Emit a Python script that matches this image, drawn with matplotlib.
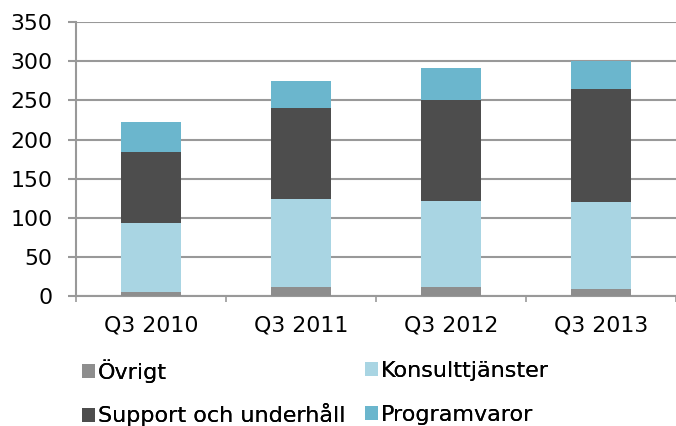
import numpy as np
import matplotlib
matplotlib.use('Agg')
import matplotlib.pyplot as plt

plt.rcParams['font.family'] = ['DejaVu Sans']

# data
kvartal = ['Q3 2010', 'Q3 2011', 'Q3 2012', 'Q3 2013']
ovrigt = [5, 11, 11, 9]
konsult = [88, 113, 111, 111]
support = [91, 116, 128, 144]
program = [38, 35, 42, 36]

c_ovr = '#8e8e8e'
c_kon = '#a9d5e3'
c_sup = '#4d4d4d'
c_pro = '#6bb6cd'
gr = '#999999'
fs = 15.8

fig = plt.figure(figsize=(6.76, 4.26), dpi=100)
ax = fig.add_axes([76/676, 0.305, 600/676, 0.643])

x = np.arange(len(kvartal))
w = 0.40
b1 = np.array(ovrigt)
b2 = b1 + np.array(konsult)
b3 = b2 + np.array(support)
h_ovr = ax.bar(x, ovrigt, w, color=c_ovr, zorder=3)
h_kon = ax.bar(x, konsult, w, bottom=b1, color=c_kon, zorder=3)
h_sup = ax.bar(x, support, w, bottom=b2, color=c_sup, zorder=3)
h_pro = ax.bar(x, program, w, bottom=b3, color=c_pro, zorder=3)

ax.set_ylim(0, 350)
ax.set_yticks(range(0, 351, 50))
ax.set_xlim(-0.5, 3.46)
ax.set_xticks(x)
ax.set_xticklabels(kvartal)
ax.set_xticks(np.arange(-0.5, 3.6, 1), minor=True)
ax.tick_params(axis='x', which='major', length=0, pad=14, labelsize=fs)
ax.tick_params(axis='x', which='minor', length=4, color=gr, width=1.2)
ax.tick_params(axis='y', length=6, color=gr, width=1.5, pad=11, labelsize=fs)
ax.grid(axis='y', color=gr, lw=1.5, zorder=0)
for s in ['top', 'right']:
    ax.spines[s].set_visible(False)
for s in ['bottom', 'left']:
    ax.spines[s].set_color(gr)
    ax.spines[s].set_linewidth(1.5)

# legend entries, two rows of two
entries = [(h_ovr, 'Övrigt', 82, 371),
           (h_kon, 'Konsulttjänster', 365, 371),
           (h_sup, 'Support och underhåll', 82, 415),
           (h_pro, 'Programvaror', 365, 415)]
for h, lab, px, py in entries:
    lg = fig.legend([h], [lab], loc='center left',
                    bbox_to_anchor=(px/676, 1 - py/426), frameon=False,
                    fontsize=16, handlelength=0.58, handleheight=0.58,
                    handletextpad=0.15, borderaxespad=0, borderpad=0)
    fig.add_artist(lg)

fig.savefig('out.png', dpi=100)
